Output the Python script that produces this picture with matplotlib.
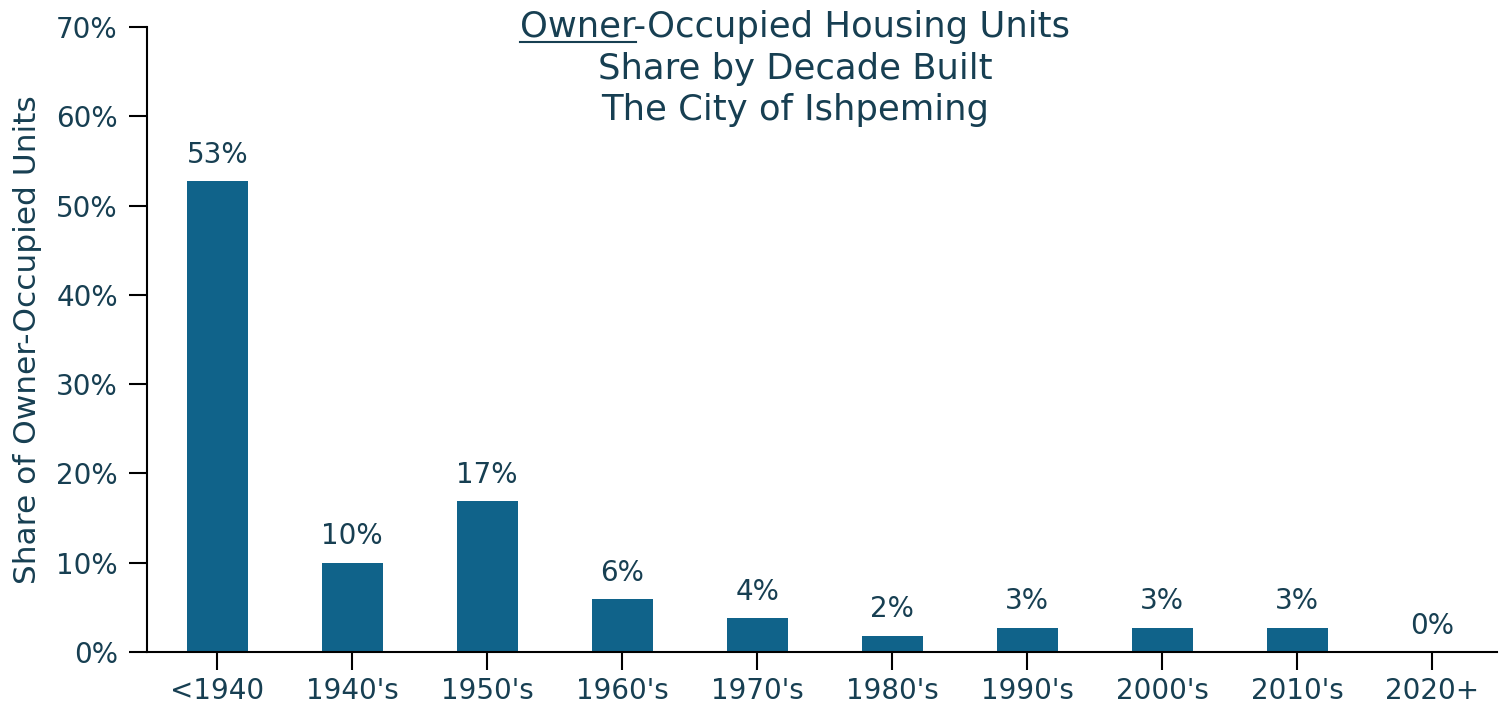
import matplotlib
matplotlib.use("Agg")
import matplotlib.pyplot as plt
from matplotlib.ticker import PercentFormatter

# data
decades = ["<1940", "1940's", "1950's", "1960's", "1970's", "1980's", "1990's", "2000's", "2010's", "2020+"]
shares = [52.7, 10.0, 16.9, 5.9, 3.8, 1.8, 2.7, 2.7, 2.7, 0.0]

BAR = "#10638a"
TXT = "#173f52"

plt.rcParams["font.family"] = ["DejaVu Sans"]

fig = plt.figure(figsize=(15.1, 7.04), dpi=100)
ax = fig.add_axes([147 / 1510, 52 / 704, 1350 / 1510, 625 / 704])

x = list(range(len(decades)))
ax.bar(x, shares, width=0.45, color=BAR)
for xi, v in zip(x, shares):
    ax.annotate(f"{round(v)}%", (xi, v), xytext=(0, 9), textcoords="offset points",
                ha="center", va="bottom", fontsize=20, color=TXT)

ax.set_xlim(-0.52, 9.48)
ax.set_ylim(0, 70)
ax.set_yticks(range(0, 71, 10))
ax.yaxis.set_major_formatter(PercentFormatter(decimals=0))
ax.set_xticks(x)
ax.set_xticklabels(decades)
ax.tick_params(axis="both", length=13, width=1.5, labelsize=20, labelcolor=TXT)
ax.tick_params(axis="y", pad=8)
ax.tick_params(axis="x", pad=5)
for s in ["top", "right"]:
    ax.spines[s].set_visible(False)
for s in ["left", "bottom"]:
    ax.spines[s].set_linewidth(1.5)

ax.set_ylabel("Share of Owner-Occupied Units", fontsize=22.5, color=TXT, labelpad=10)

# title, first word underlined
cx = 795 / 1510
tsize = 25.5
lines = ["Owner-Occupied Housing Units", "Share by Decade Built", "The City of Ishpeming"]
ys = [(704 - 37) / 704, (704 - 79) / 704, (704 - 120) / 704]
texts = []
for ln, yy in zip(lines, ys):
    texts.append(fig.text(cx, yy, ln, ha="center", va="baseline", fontsize=tsize, color=TXT))

fig.canvas.draw()
r = fig.canvas.get_renderer()
bb = texts[0].get_window_extent(r)
tmp = fig.text(0, 0, "Owner", fontsize=tsize)
w = tmp.get_window_extent(r).width
tmp.remove()
x0 = bb.x0 / fig.bbox.width
x1 = (bb.x0 + w) / fig.bbox.width
yl = ys[0] - 5 / 704
fig.add_artist(plt.Line2D([x0, x1], [yl, yl], color=TXT, lw=1.5, transform=fig.transFigure))

fig.savefig("out.png", dpi=100)
